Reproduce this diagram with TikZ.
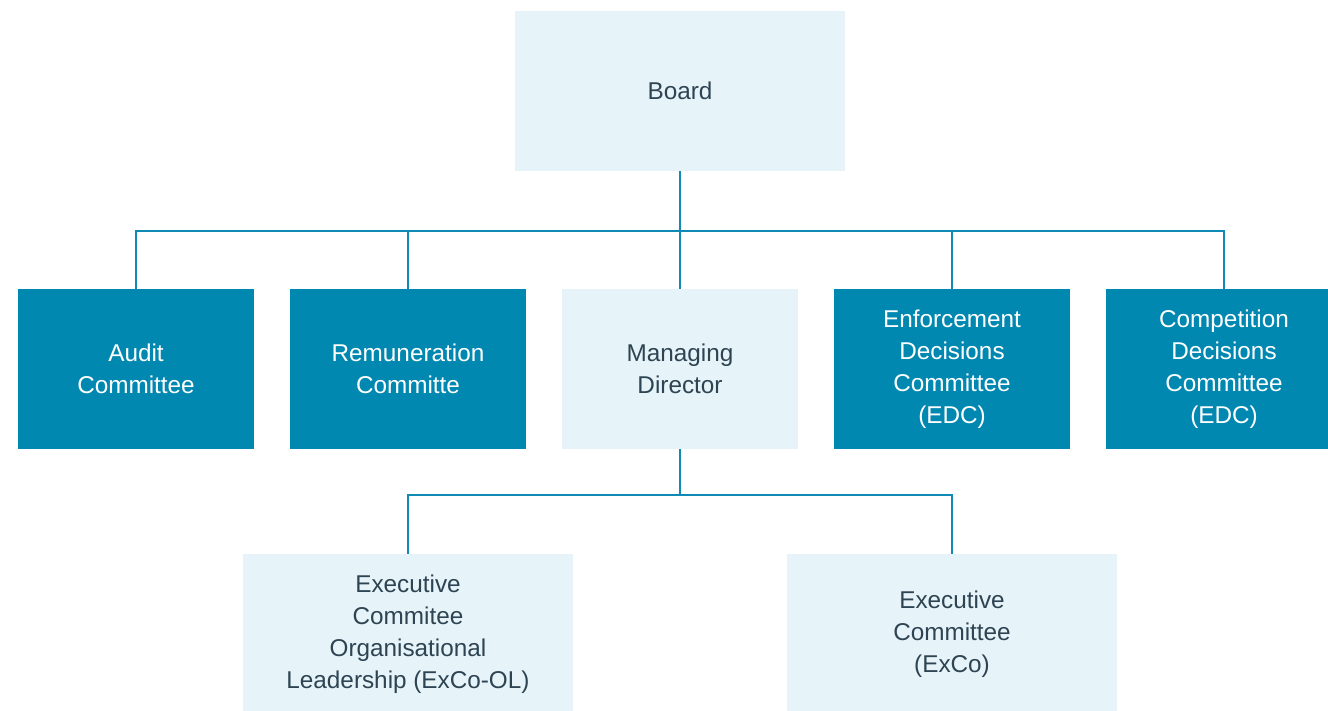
\documentclass[tikz,border=0pt]{standalone}
\usepackage{fontspec}
\setmainfont{Liberation Sans}
\definecolor{tealdark}{HTML}{0088B1}
\definecolor{lightbg}{HTML}{E6F3F8}
\definecolor{slate}{HTML}{2E4453}
\definecolor{linecol}{HTML}{0E8AB5}
\begin{document}
\begin{tikzpicture}[x=1pt,y=-1pt,
  box/.style={rectangle, inner sep=0pt, align=center, minimum height=160pt,
    font=\fontsize{24.3}{32}\selectfont},
  darkbox/.style={box, fill=tealdark, text=white, minimum width=236pt},
  lightbox/.style={box, fill=lightbg, text=slate},
  conn/.style={draw=linecol, line width=2.4pt, line join=miter}]
\useasboundingbox (0,0) rectangle (1328,710);
\clip (0,0) rectangle (1328,710);
\fill[white] (0,0) rectangle (1328,710);

\node[lightbox, minimum width=330pt] (board) at (680,91) {Board};

\node[darkbox] (audit) at (136,369) {Audit\\Committee};
\node[darkbox] (rem) at (408,369) {Remuneration\\Committe};
\node[lightbox, minimum width=236pt] (md) at (680,369) {Managing\\Director};
\node[darkbox] (enf) at (952,369) {Enforcement\\Decisions\\Committee\\(EDC)};
\node[darkbox] (comp) at (1224,369) {Competition\\Decisions\\Committee\\(EDC)};

\node[lightbox, minimum width=330pt] (exol) at (408,634) {Executive\\Commitee\\Organisational\\Leadership (ExCo-OL)};
\node[lightbox, minimum width=330pt] (exco) at (952,634) {Executive\\Committee\\(ExCo)};

\coordinate (bus) at (680,231);
\coordinate (bus2) at (680,495);

\draw[conn] (board.south) -- (md.north);
\draw[conn] (audit.north) |- (bus) -| (comp.north);
\draw[conn] (rem.north) -- (rem.north |- bus);
\draw[conn] (enf.north) -- (enf.north |- bus);
\draw[conn] (md.south) -- (bus2);
\draw[conn] (exol.north) |- (bus2) -| (exco.north);
\end{tikzpicture}
\end{document}
